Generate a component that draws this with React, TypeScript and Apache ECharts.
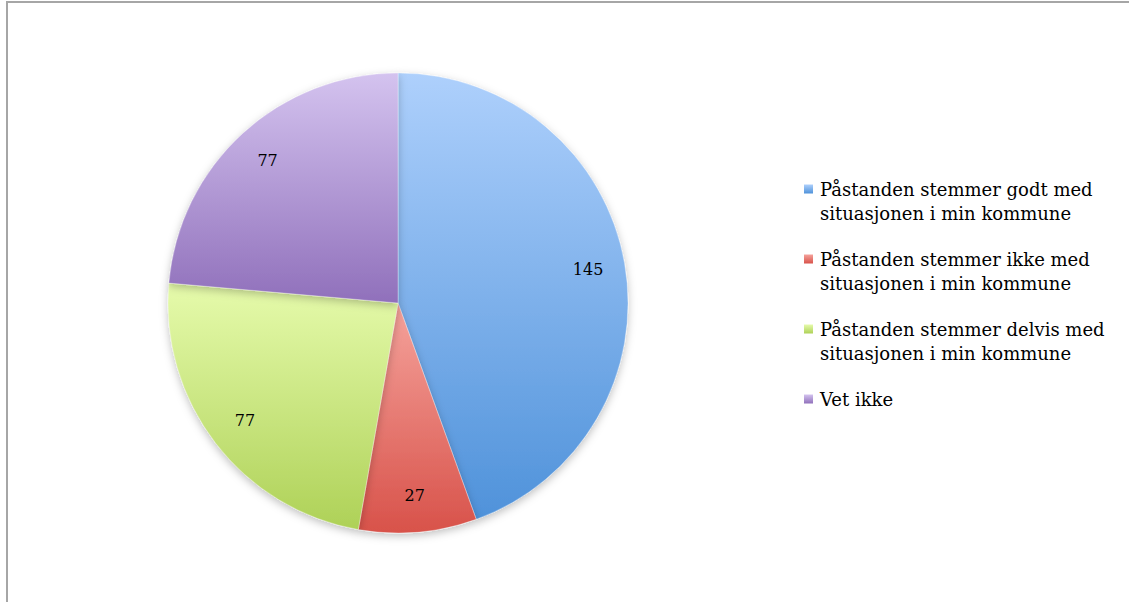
import React, { useEffect, useRef } from "react";
import * as echarts from "echarts";

const categories = [
  "Påstanden stemmer godt med\nsituasjonen i min kommune",
  "Påstanden stemmer ikke med\nsituasjonen i min kommune",
  "Påstanden stemmer delvis med\nsituasjonen i min kommune",
  "Vet ikke",
];
const values = [145, 27, 77, 77];
const topColors = ["#aed0fc", "#f5a39c", "#e6fbac", "#d4c3ef"];
const bottomColors = ["#4f92da", "#d8524a", "#aed157", "#9070bb"];

const FONT = "'DejaVu Serif', 'Liberation Serif', serif";

export default function App() {
  const ref = useRef<HTMLDivElement>(null);
  useEffect(() => {
    if (!ref.current) return;
    const chart = echarts.init(ref.current, undefined, { renderer: "svg" });
    const grad = (i: number) =>
      new echarts.graphic.LinearGradient(0, 0, 0, 1, [
        { offset: 0, color: topColors[i] },
        { offset: 1, color: bottomColors[i] },
      ]);
    const data = categories.map((name, i) => ({
      name,
      value: values[i],
      itemStyle: { color: grad(i) },
    }));
    const rich: Record<string, any> = {
      t: { fontFamily: FONT, fontSize: 18, color: "#000", lineHeight: 24 },
      ind: { width: 16 },
    };
    categories.forEach((_, i) => {
      rich["s" + i] = {
        width: 9,
        height: 9,
        backgroundColor: grad(i),
        align: "left",
      };
      rich["g" + i] = { width: 7 };
    });
    chart.setOption({
      animation: false,
      backgroundColor: "#fff",
      graphic: [
        {
          type: "rect",
          shape: { x: 7, y: 2, width: 1300, height: 800 },
          style: { fill: "none", stroke: "#a6a6a6", lineWidth: 2 },
          silent: true,
        },
      ],
      legend: {
        orient: "vertical",
        left: 793,
        top: 172,
        itemGap: 22,
        icon: "rect",
        itemWidth: 0,
        itemHeight: 0,
        selectedMode: false,
        data: categories,
        formatter: (name: string) => {
          const i = categories.indexOf(name);
          const lines = name.split("\n");
          return lines
            .map((l, k) =>
              k === 0
                ? `{s${i}|}{g${i}|}{t|${l}}`
                : `{ind|}{t|${l}}`
            )
            .join("\n");
        },
        textStyle: { rich, fontFamily: FONT, fontSize: 18, lineHeight: 24 },
      },
      series: [
        {
          type: "pie",
          center: [398, 303],
          radius: 230,
          startAngle: 90,
          clockwise: true,
          data,
          label: { show: false },
          labelLine: { show: false },
          itemStyle: {
            borderColor: "rgba(255,255,255,0.6)",
            borderWidth: 0.5,
            shadowBlur: 8,
            shadowColor: "rgba(0,0,0,0.25)",
            shadowOffsetY: 3,
          },
          emphasis: { disabled: true },
        },
        {
          type: "pie",
          center: [398, 303],
          radius: [150, 230],
          startAngle: 90,
          clockwise: true,
          silent: true,
          legendHoverLink: false,
          data: categories.map((name, i) => ({ name: name + " ", value: values[i] })),
          itemStyle: { color: "rgba(0,0,0,0)" },
          label: {
            show: true,
            position: "inside",
            formatter: "{c}",
            fontFamily: FONT,
            fontSize: 16,
            color: "#000",
          },
          labelLine: { show: false },
          emphasis: { disabled: true },
        },
      ],
    });
    return () => chart.dispose();
  }, []);
  return (
    <div
      ref={ref}
      style={{ position: "fixed", left: 0, top: 0, width: 1129, height: 602 }}
    />
  );
}
